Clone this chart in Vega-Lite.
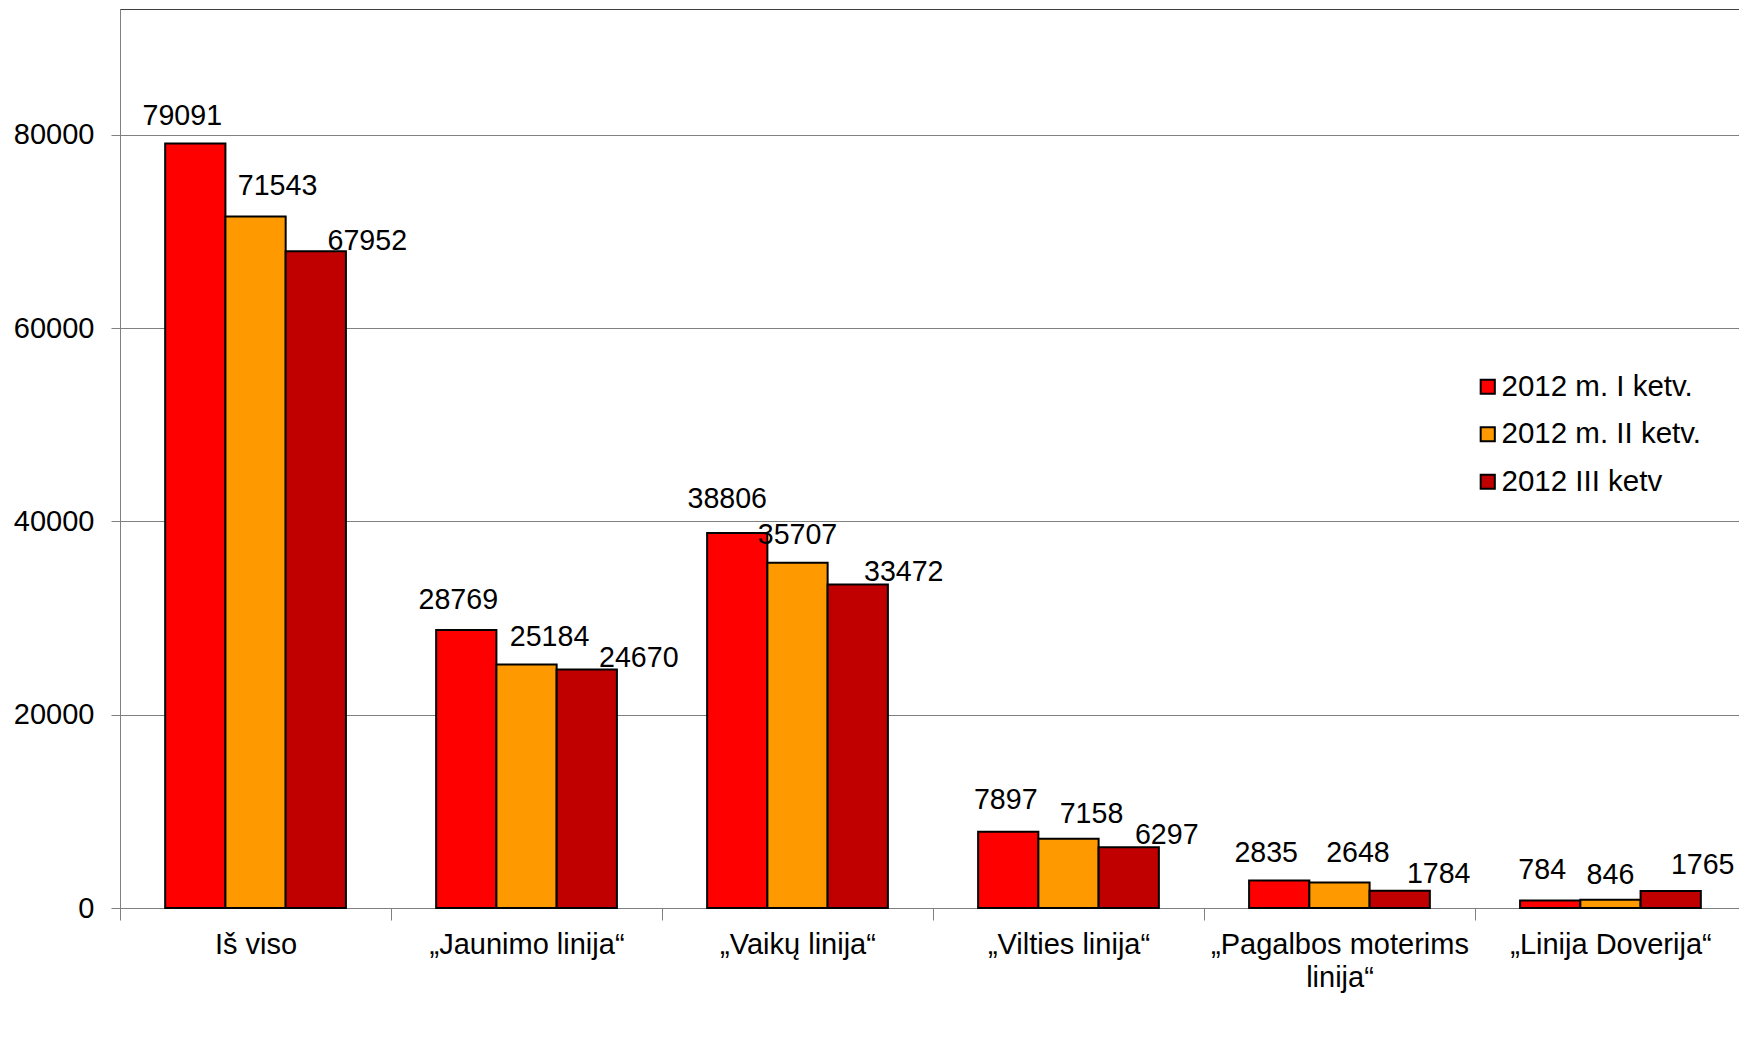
{
  "$schema": "https://vega.github.io/schema/vega-lite/v6.json",
  "width": 1626,
  "height": 899,
  "autosize": {"type": "none"},
  "padding": {"left": 120, "top": 9, "right": 0, "bottom": 140},
  "background": "white",
  "config": {
    "view": {"stroke": "#404040", "strokeWidth": 1},
    "font": "Liberation Sans",
    "text": {"font": "Liberation Sans", "fontSize": 28.6, "baseline": "middle", "color": "black"}
  },
  "data": {
    "values": [
      {"cat": "Iš viso", "series": "2012 m. I ketv.", "value": 79091},
      {"cat": "Iš viso", "series": "2012 m. II ketv.", "value": 71543},
      {"cat": "Iš viso", "series": "2012 III ketv", "value": 67952},
      {"cat": "„Jaunimo linija“", "series": "2012 m. I ketv.", "value": 28769},
      {"cat": "„Jaunimo linija“", "series": "2012 m. II ketv.", "value": 25184},
      {"cat": "„Jaunimo linija“", "series": "2012 III ketv", "value": 24670},
      {"cat": "„Vaikų linija“", "series": "2012 m. I ketv.", "value": 38806},
      {"cat": "„Vaikų linija“", "series": "2012 m. II ketv.", "value": 35707},
      {"cat": "„Vaikų linija“", "series": "2012 III ketv", "value": 33472},
      {"cat": "„Vilties linija“", "series": "2012 m. I ketv.", "value": 7897},
      {"cat": "„Vilties linija“", "series": "2012 m. II ketv.", "value": 7158},
      {"cat": "„Vilties linija“", "series": "2012 III ketv", "value": 6297},
      {"cat": "„Pagalbos moterims linija“", "series": "2012 m. I ketv.", "value": 2835},
      {"cat": "„Pagalbos moterims linija“", "series": "2012 m. II ketv.", "value": 2648},
      {"cat": "„Pagalbos moterims linija“", "series": "2012 III ketv", "value": 1784},
      {"cat": "„Linija Doverija“", "series": "2012 m. I ketv.", "value": 784},
      {"cat": "„Linija Doverija“", "series": "2012 m. II ketv.", "value": 846},
      {"cat": "„Linija Doverija“", "series": "2012 III ketv", "value": 1765}
    ]
  },
  "encoding": {
    "x": {
      "field": "cat",
      "type": "nominal",
      "sort": null,
      "scale": {"paddingInner": 0.333, "paddingOuter": 0.1667},
      "axis": {
        "title": null,
        "labelFontSize": 29,
        "labelFont": "Liberation Sans",
        "labelColor": "black",
        "labelAngle": 0,
        "labelLimit": 0,
        "tickSize": 12,
        "tickOffset": -135.49,
        "labelOffset": 135.49,
        "labelPadding": 10,
        "labelLineHeight": 33,
        "domainColor": "#808080",
        "tickColor": "#808080",
        "labelExpr": "datum.label == '„Pagalbos moterims linija“' ? ['„Pagalbos moterims', 'linija“'] : datum.label"
      }
    },
    "xOffset": {
      "field": "series",
      "type": "nominal",
      "scale": {
        "domain": ["2012 m. I ketv.", "2012 m. II ketv.", "2012 III ketv"],
        "paddingInner": 0,
        "paddingOuter": 0
      }
    },
    "y": {
      "field": "value",
      "type": "quantitative",
      "scale": {"domain": [0, 93000], "nice": false},
      "axis": {
        "title": null,
        "values": [0, 20000, 40000, 60000, 80000],
        "format": "d",
        "labelFontSize": 29,
        "labelFont": "Liberation Sans",
        "labelColor": "black",
        "tickSize": 9,
        "labelPadding": 17,
        "grid": true,
        "gridColor": "#808080",
        "domainColor": "#808080",
        "tickColor": "#808080"
      }
    }
  },
  "layer": [
    {
      "mark": {"type": "bar", "stroke": "black", "strokeWidth": 2},
      "encoding": {
        "color": {
          "field": "series",
          "type": "nominal",
          "scale": {
            "domain": ["2012 m. I ketv.", "2012 m. II ketv.", "2012 III ketv"],
            "range": ["#FF0000", "#FF9900", "#C00000"]
          },
          "legend": {
            "title": null,
            "orient": "none",
            "legendX": 1353,
            "legendY": 363,
            "padding": 0,
            "symbolType": "square",
            "symbolSize": 200,
            "symbolStrokeColor": "black",
            "symbolStrokeWidth": 2,
            "symbolOpacity": 1,
            "labelFontSize": 29.5,
            "labelFont": "Liberation Sans",
            "labelColor": "black",
            "labelOffset": -1,
            "rowPadding": 16.5,
            "labelLimit": 0
          }
        }
      }
    },
    {
      "encoding": {"text": {"field": "value", "type": "quantitative", "format": "d"}},
      "layer": [
        {"transform": [{"filter": "datum.cat == 'Iš viso' && datum.series == '2012 m. I ketv.'"}], "mark": {"type": "text", "dx": -13, "dy": -27}},
        {"transform": [{"filter": "datum.cat == 'Iš viso' && datum.series == '2012 m. II ketv.'"}], "mark": {"type": "text", "dx": 22, "dy": -30.5}},
        {"transform": [{"filter": "datum.cat == 'Iš viso' && datum.series == '2012 III ketv'"}], "mark": {"type": "text", "dx": 51.5, "dy": -10}},
        {"transform": [{"filter": "datum.cat == '„Jaunimo linija“' && datum.series == '2012 m. I ketv.'"}], "mark": {"type": "text", "dx": -8, "dy": -30}},
        {"transform": [{"filter": "datum.cat == '„Jaunimo linija“' && datum.series == '2012 m. II ketv.'"}], "mark": {"type": "text", "dx": 23, "dy": -28}},
        {"transform": [{"filter": "datum.cat == '„Jaunimo linija“' && datum.series == '2012 III ketv'"}], "mark": {"type": "text", "dx": 52, "dy": -12}},
        {"transform": [{"filter": "datum.cat == '„Vaikų linija“' && datum.series == '2012 m. I ketv.'"}], "mark": {"type": "text", "dx": -10, "dy": -33.5}},
        {"transform": [{"filter": "datum.cat == '„Vaikų linija“' && datum.series == '2012 m. II ketv.'"}], "mark": {"type": "text", "dx": 0, "dy": -27.5}},
        {"transform": [{"filter": "datum.cat == '„Vaikų linija“' && datum.series == '2012 III ketv'"}], "mark": {"type": "text", "dx": 46, "dy": -12.5}},
        {"transform": [{"filter": "datum.cat == '„Vilties linija“' && datum.series == '2012 m. I ketv.'"}], "mark": {"type": "text", "dx": -2.5, "dy": -32}},
        {"transform": [{"filter": "datum.cat == '„Vilties linija“' && datum.series == '2012 m. II ketv.'"}], "mark": {"type": "text", "dx": 23, "dy": -25}},
        {"transform": [{"filter": "datum.cat == '„Vilties linija“' && datum.series == '2012 III ketv'"}], "mark": {"type": "text", "dx": 38, "dy": -12}},
        {"transform": [{"filter": "datum.cat == '„Pagalbos moterims linija“' && datum.series == '2012 m. I ketv.'"}], "mark": {"type": "text", "dx": -13, "dy": -28}},
        {"transform": [{"filter": "datum.cat == '„Pagalbos moterims linija“' && datum.series == '2012 m. II ketv.'"}], "mark": {"type": "text", "dx": 18.5, "dy": -29}},
        {"transform": [{"filter": "datum.cat == '„Pagalbos moterims linija“' && datum.series == '2012 III ketv'"}], "mark": {"type": "text", "dx": 39, "dy": -17}},
        {"transform": [{"filter": "datum.cat == '„Linija Doverija“' && datum.series == '2012 m. I ketv.'"}], "mark": {"type": "text", "dx": -8, "dy": -30}},
        {"transform": [{"filter": "datum.cat == '„Linija Doverija“' && datum.series == '2012 m. II ketv.'"}], "mark": {"type": "text", "dx": 0, "dy": -25}},
        {"transform": [{"filter": "datum.cat == '„Linija Doverija“' && datum.series == '2012 III ketv'"}], "mark": {"type": "text", "dx": 32, "dy": -26}}
      ]
    }
  ]
}
